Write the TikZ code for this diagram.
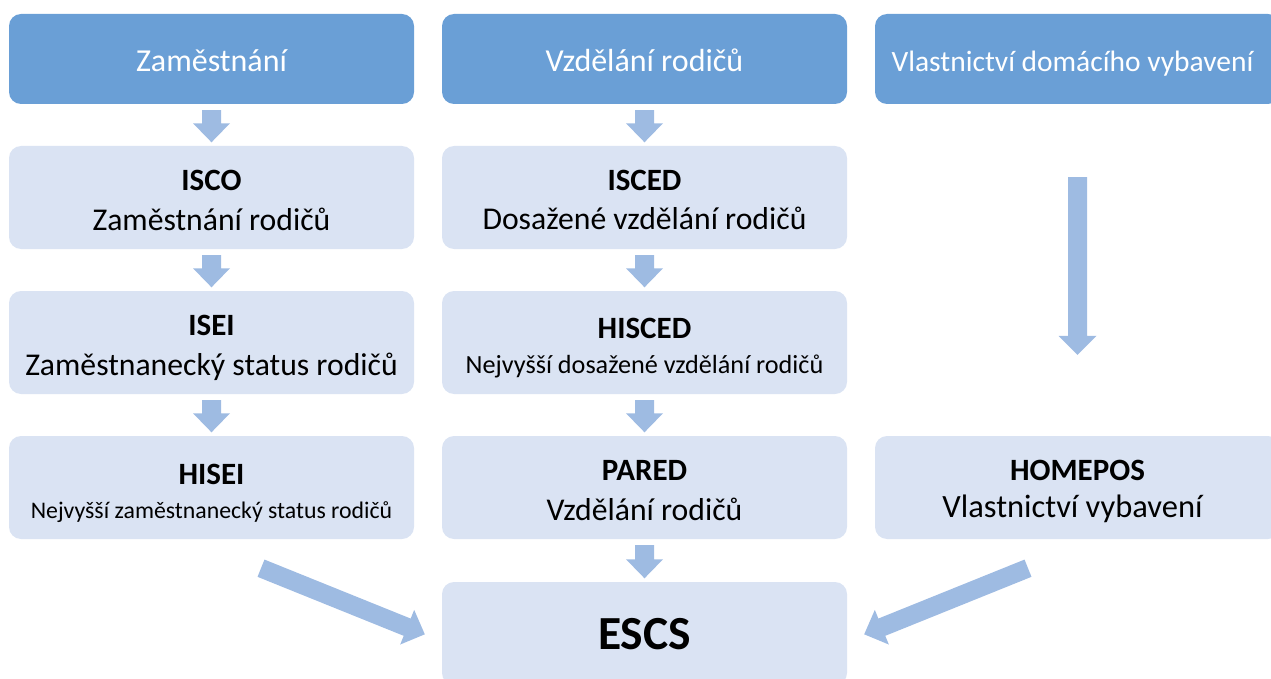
\documentclass[tikz,border=0pt]{standalone}
\usepackage{fontspec}
\setmainfont{Carlito}
\usetikzlibrary{calc}
\definecolor{hdr}{RGB}{106,159,214}
\definecolor{lt}{RGB}{218,227,243}
\definecolor{arw}{RGB}{158,187,226}
% block arrow: #1 tail, #2 tip, #3 shaft half width, #4 head half width, #5 head length
\newcommand\barrow[5]{%
  \path ($(#2)!#5!(#1)$) coordinate (hb);
  \fill[arw] ($(#1)!#3!90:(#2)$) -- ($(hb)!#3!90:(#2)$) -- ($(hb)!#4!90:(#2)$) -- (#2)
     -- ($(hb)!#4!-90:(#2)$) -- ($(hb)!#3!-90:(#2)$) -- ($(#1)!#3!-90:(#2)$) -- cycle;
}
\begin{document}
\begin{tikzpicture}[x=1pt,y=-1pt,
  hbox/.style={rectangle, rounded corners=12pt, fill=hdr, minimum width=405pt, minimum height=90pt, inner sep=0pt},
  lbox/.style={rectangle, rounded corners=12pt, fill=lt, minimum width=405pt, minimum height=103pt, inner sep=0pt},
  htxt/.style={anchor=base, inner sep=0pt, text=white, font=\fontsize{#1}{36}\selectfont},
  htxt/.default=32,
  btxt/.style={anchor=base, inner sep=0pt, font=\fontsize{31}{36}\selectfont\bfseries},
  rtxt/.style={anchor=base, inner sep=0pt, font=\fontsize{#1}{36}\selectfont},
  rtxt/.default=31.7,
  stxt/.style={anchor=base, inner sep=0pt, font=\fontsize{#1}{28}\selectfont},
  etxt/.style={anchor=base, inner sep=0pt, font=\fontsize{47.5}{55}\selectfont\bfseries}
]
\useasboundingbox (0,0) rectangle (1271,679);
\clip (0,0) rectangle (1271,679);
% headers
\node[hbox] (h1) at (211.5,59) {};
\node[hbox] (h2) at (644.5,59) {};
\node[hbox] (h3) at (1077.5,59) {};
\node[htxt] (h1t) at ($(h1.center)+(0,12.7)$) {Zaměstnání};
\node[htxt] (h2t) at ($(h2.center)+(0,12.7)$) {Vzdělání rodičů};
\node[htxt=29.5] (h3t) at ($(h3.center)+(-5,12.7)$) {Vlastnictví domácího vybavení};
% column 1
\node[lbox] (isco) at (211.5,197.5) {};
\node[btxt] (iscoa) at ($(isco.center)+(0,-7)$) {ISCO};
\node[rtxt] (iscob) at ($(isco.center)+(0,32.5)$) {Zaměstnání rodičů};
\node[lbox] (isei) at (211.5,342.5) {};
\node[btxt] (iseia) at ($(isei.center)+(0,-7)$) {ISEI};
\node[rtxt] (iseib) at ($(isei.center)+(0,32.5)$) {Zaměstnanecký status rodičů};
\node[lbox] (hisei) at (211.5,487.5) {};
\node[btxt] (hiseia) at ($(hisei.center)+(0,-3.5)$) {HISEI};
\node[stxt=23.8] (hiseib) at ($(hisei.center)+(0,30.8)$) {Nejvyšší zaměstnanecký status rodičů};
% column 2
\node[lbox] (isced) at (644.5,197.5) {};
\node[btxt] (isceda) at ($(isced.center)+(0,-7.5)$) {ISCED};
\node[rtxt] (iscedb) at ($(isced.center)+(0,32)$) {Dosažené vzdělání rodičů};
\node[lbox] (hisced) at (644.5,342.5) {};
\node[btxt] (hisceda) at ($(hisced.center)+(0,-4.2)$) {HISCED};
\node[stxt=26.2] (hiscedb) at ($(hisced.center)+(0,30.8)$) {Nejvyšší dosažené vzdělání rodičů};
\node[lbox] (pared) at (644.5,487.5) {};
\node[btxt] (pareda) at ($(pared.center)+(0,-7)$) {PARED};
\node[rtxt] (paredb) at ($(pared.center)+(0,32.5)$) {Vzdělání rodičů};
% column 3
\node[lbox] (homepos) at (1077.5,487.5) {};
\node[btxt] (homeposa) at ($(homepos.center)+(0,-7.5)$) {HOMEPOS};
\node[rtxt=32.5] (homeposb) at ($(homepos.center)+(-5,30)$) {Vlastnictví vybavení};
% result
\node[lbox] (escs) at (644.5,633.5) {};
\node[etxt] (escst) at ($(escs.center)+(0,15.5)$) {ESCS};
% arrow end points
\coordinate (a1s) at ($(h1.south)+(0,6)$);    \coordinate (a1e) at ($(isco.north)+(0,-3.5)$);
\coordinate (a2s) at ($(isco.south)+(0,6)$);  \coordinate (a2e) at ($(isei.north)+(0,-3.5)$);
\coordinate (a3s) at ($(isei.south)+(0,6)$);  \coordinate (a3e) at ($(hisei.north)+(0,-3.5)$);
\coordinate (b1s) at ($(h2.south)+(0,6)$);    \coordinate (b1e) at ($(isced.north)+(0,-3.5)$);
\coordinate (b2s) at ($(isced.south)+(0,6)$); \coordinate (b2e) at ($(hisced.north)+(0,-3.5)$);
\coordinate (b3s) at ($(hisced.south)+(0,6)$);\coordinate (b3e) at ($(pared.north)+(0,-3.5)$);
\coordinate (b4s) at ($(pared.south)+(0,6)$); \coordinate (b4e) at ($(escs.north)+(0,-3.5)$);
\coordinate (c1s) at ($(h3.south)+(0,73)$);   \coordinate (c1e) at ($(homepos.north)+(0,-81)$);
\coordinate (d1s) at ($(hisei.south)+(49.5,29)$);   \coordinate (d1e) at ($(escs.west)+(-17,0.8)$);
\coordinate (d2s) at ($(homepos.south)+(-49.5,29)$);\coordinate (d2e) at ($(escs.east)+(17,0.8)$);
% arrows
\barrow{a1s}{a1e}{9.5pt}{18.5pt}{19pt}
\barrow{a2s}{a2e}{9.5pt}{18.5pt}{19pt}
\barrow{a3s}{a3e}{9.5pt}{18.5pt}{19pt}
\barrow{b1s}{b1e}{9.5pt}{18.5pt}{19pt}
\barrow{b2s}{b2e}{9.5pt}{18.5pt}{19pt}
\barrow{b3s}{b3e}{9.5pt}{18.5pt}{19pt}
\barrow{b4s}{b4e}{9.5pt}{18.5pt}{19pt}
\barrow{c1s}{c1e}{9.5pt}{19pt}{19pt}
\barrow{d1s}{d1e}{9.3pt}{18.7pt}{19pt}
\barrow{d2s}{d2e}{9.3pt}{18.7pt}{19pt}
\end{tikzpicture}
\end{document}
